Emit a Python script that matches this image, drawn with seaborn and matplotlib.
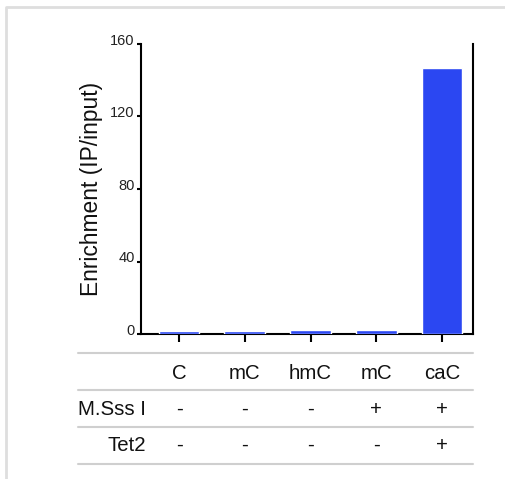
import numpy as np
import pandas as pd
import seaborn as sns
import matplotlib.pyplot as plt
import matplotlib.transforms as mtransforms
from matplotlib.lines import Line2D

# values
bases = ["C", "mC", "hmC", "mC", "caC"]
enrichment = [1.5, 1.5, 2.0, 2.0, 146.8]
msss = ["-", "-", "-", "+", "+"]
tet2 = ["-", "-", "-", "-", "+"]
y_ticks = [0, 40, 80, 120, 160]

df = pd.DataFrame({"lane": list(range(len(bases))), "enrichment": enrichment})

sns.set_theme(style="ticks")
plt.rcParams["font.family"] = ["Liberation Sans", "DejaVu Sans"]

W, H = 506, 479
fig = plt.figure(figsize=(W / 100, H / 100), dpi=100)
fig.patch.set_facecolor("white")
ax = fig.add_axes([141 / W, 1 - 334 / H, (473 - 141) / W, (334 - 44) / H])

sns.barplot(data=df, x="lane", y="enrichment", color="#2b47f2", saturation=1,
            width=0.62, errorbar=None, ax=ax, zorder=3)

ax.set_xlim(-0.578, 4.47)
ax.set_ylim(0, 160)
ax.set_yticks(y_ticks)
ax.set_xticks(range(len(bases)))
ax.set_xticklabels([])
ax.set_xlabel("")
ax.set_ylabel("Enrichment (IP/input)", fontsize=16.4, color="#111111")
ax.yaxis.set_label_coords(-0.114, 0.5)

for side in ["left", "bottom", "right"]:
    ax.spines[side].set_linewidth(1.5)
    ax.spines[side].set_color("black")
    ax.spines[side].set_zorder(2)
ax.spines["top"].set_visible(False)
ax.spines["right"].set_visible(True)

ax.tick_params(axis="x", length=6, width=1.5, color="black")
ax.tick_params(axis="y", length=3, width=1.5, pad=1.5, labelsize=10.5,
               color="black", labelcolor="#222222")
ax.tick_params(axis="y", which="both", right=False)
shift = mtransforms.ScaledTranslation(0, 3.5 / 72, fig.dpi_scale_trans)
for lab in ax.get_yticklabels():
    lab.set_transform(lab.get_transform() + shift)

# table below the axis
trans = mtransforms.blended_transform_factory(ax.transData, fig.transFigure)
rows = [bases, msss, tet2]
baselines = [379, 415, 451]
for row, yb in zip(rows, baselines):
    for i, txt in enumerate(row):
        ax.text(i, 1 - yb / H, txt, transform=trans, ha="center", va="baseline",
                fontsize=14.7, color="#111111", clip_on=False)

fig.text(146 / W, 1 - 415 / H, "M.Sss I", ha="right", va="baseline",
         fontsize=14.7, color="#111111")
fig.text(146 / W, 1 - 451 / H, "Tet2", ha="right", va="baseline",
         fontsize=14.7, color="#111111")

for yl in [353, 390, 427, 464]:
    fig.add_artist(Line2D([78 / W, 473 / W], [1 - yl / H, 1 - yl / H],
                          color="#cfcfcf", lw=1.5))

# light frame around the picture
fig.add_artist(Line2D([6 / W, 6 / W, 1], [0, 1 - 7 / H, 1 - 7 / H],
                      color="#dedede", lw=2))

fig.savefig("out.png", dpi=100)
